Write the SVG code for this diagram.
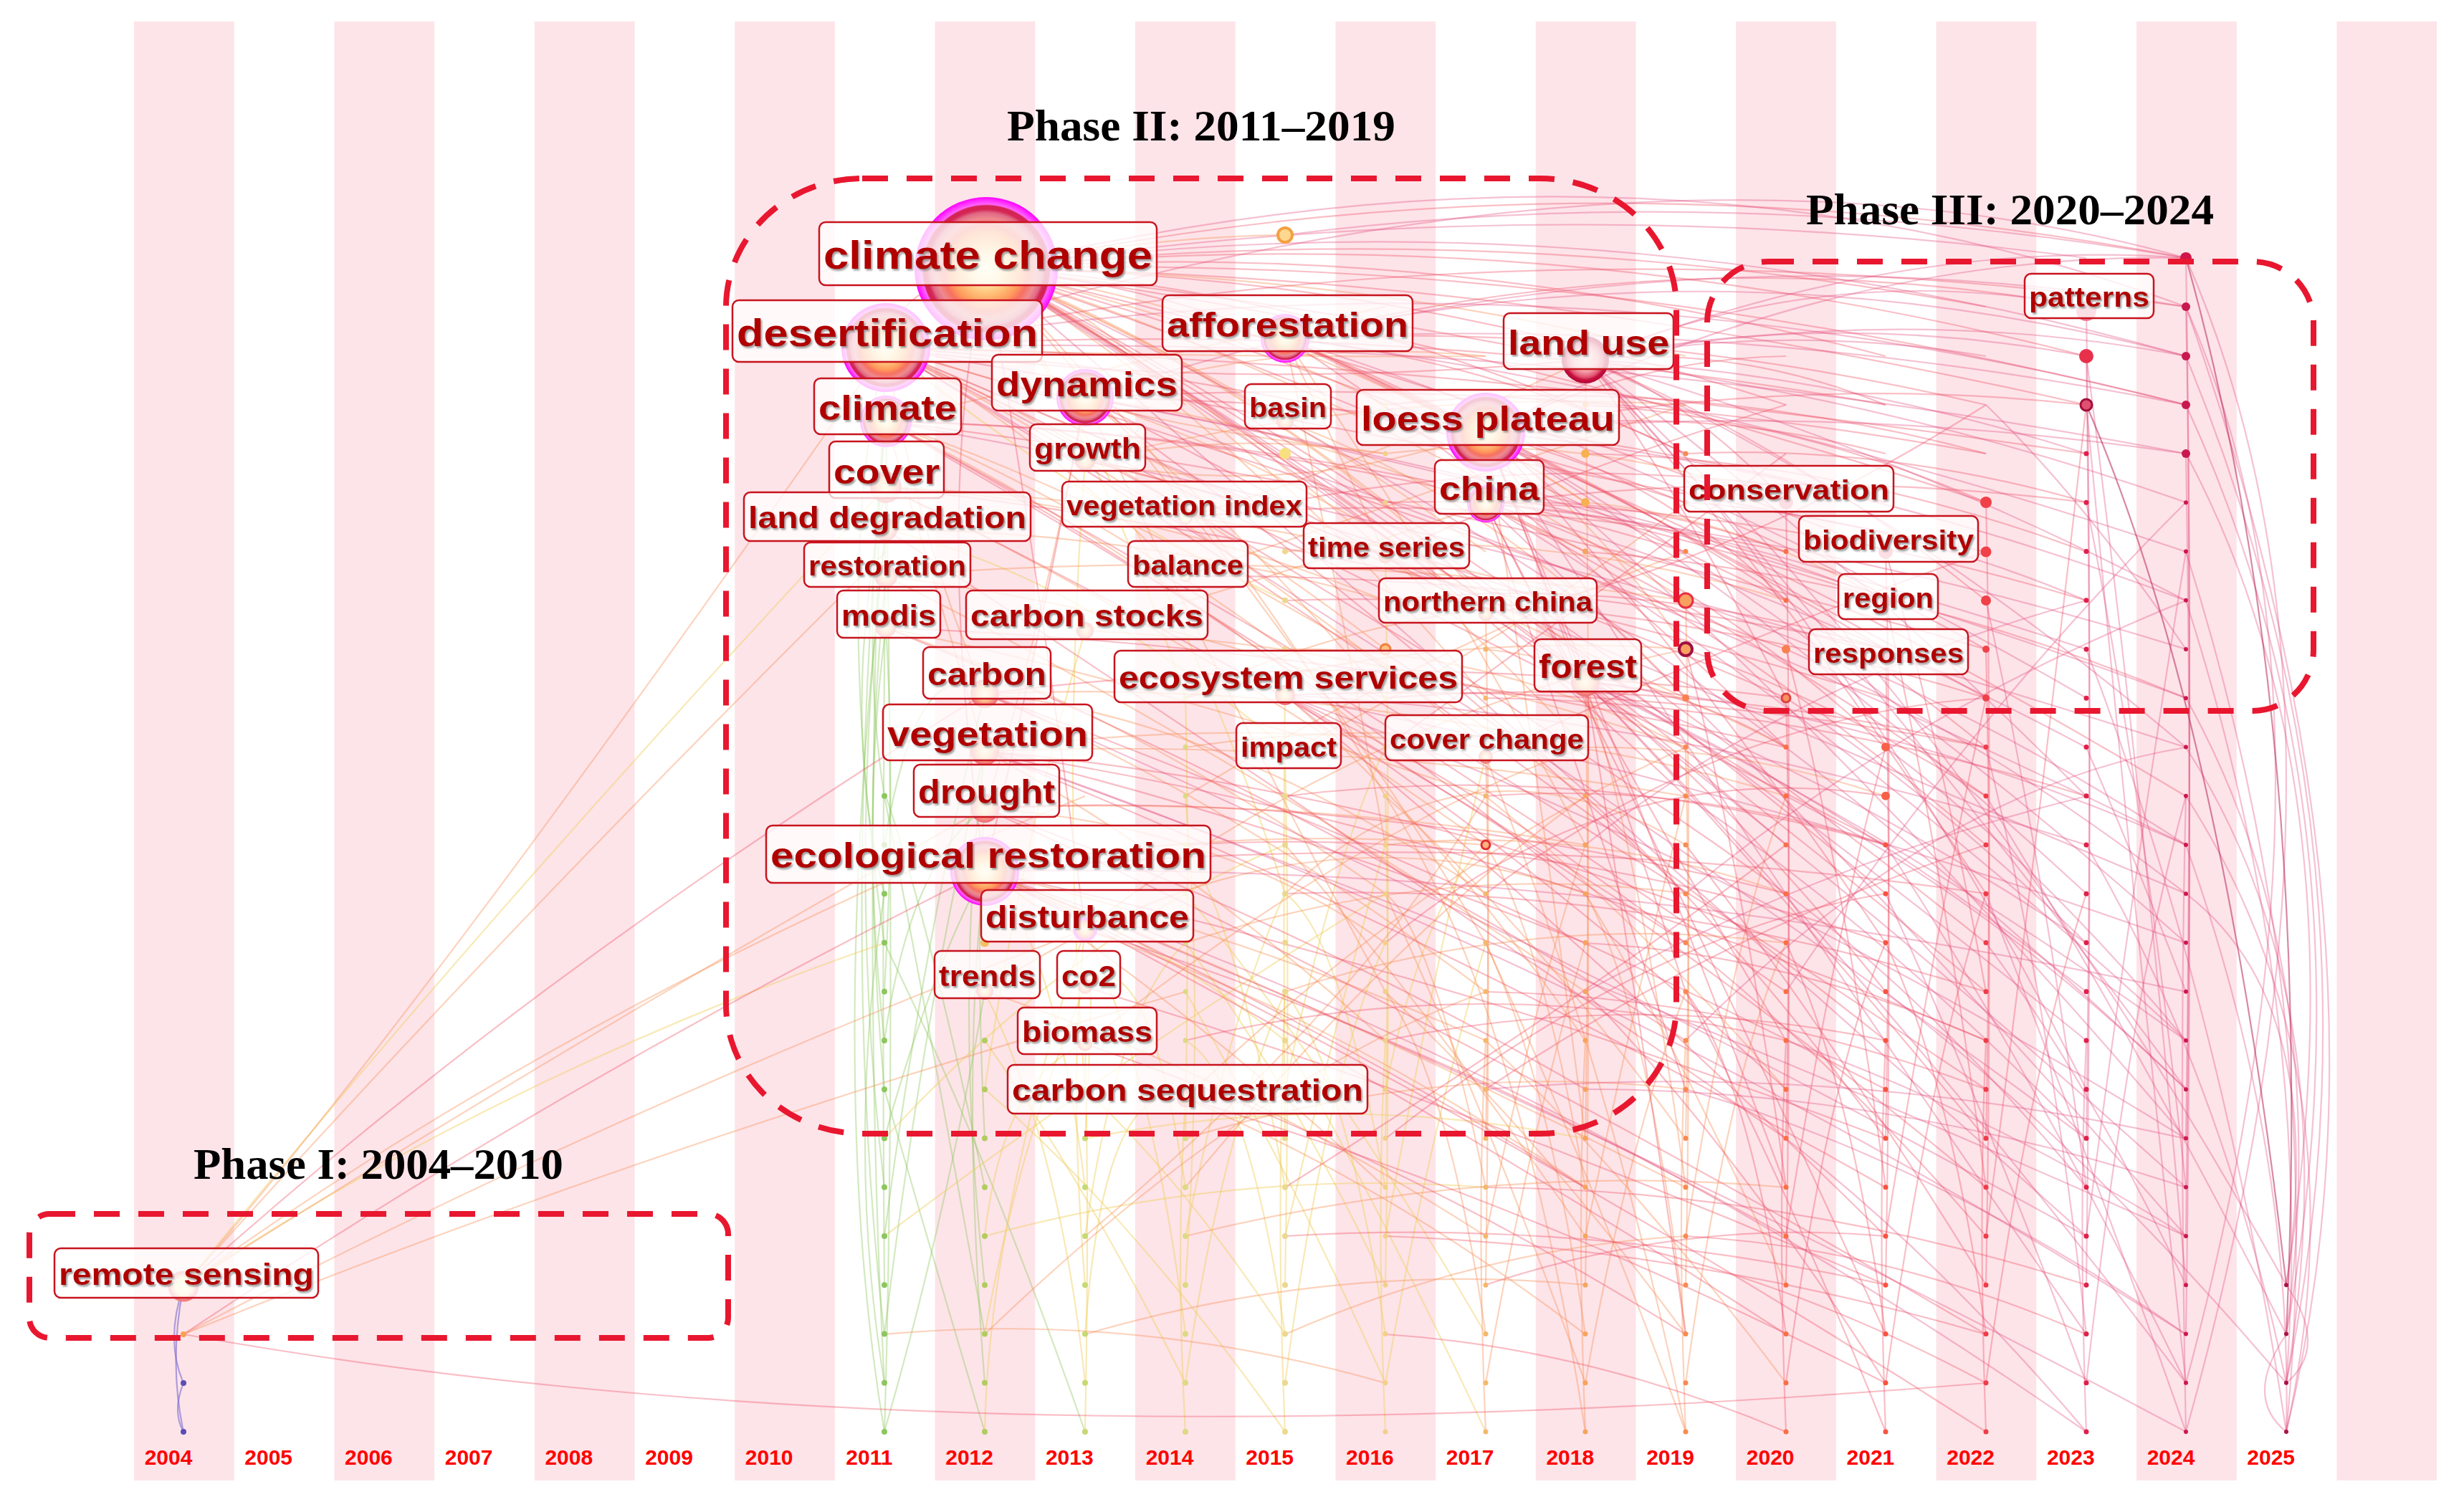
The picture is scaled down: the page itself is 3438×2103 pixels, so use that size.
<svg xmlns="http://www.w3.org/2000/svg" width="3438" height="2103" viewBox="0 0 3438 2103">
<defs>
<style>
.stripe{fill:#fde4e9}
.e path{fill:none;stroke-width:2.2}
.eg{stroke:#8cc65a;stroke-opacity:.38}
.ey{stroke:#efcf5e;stroke-opacity:.45}
.eo{stroke:#f8925a;stroke-opacity:.4}
.er{stroke:#ee4a62;stroke-opacity:.36}
.ep{stroke:#e24a7a;stroke-opacity:.34}
.ed{stroke:#b8285a;stroke-opacity:.55}
.ev{stroke:#7a6ad0;stroke-opacity:.6}
.dots path{fill:none;stroke-dasharray:0 68.25;stroke-linecap:round}
.lb rect{fill:#fff;fill-opacity:.76;stroke:#c8141e;stroke-width:2.5}
.lb text{font-family:"Liberation Sans",Arial,sans-serif;font-weight:bold;fill:#b00000;text-anchor:middle;filter:url(#sh)}
.phase{fill:none;stroke:#e8172f;stroke-width:8;stroke-dasharray:36 26}
.title{font-family:"Liberation Serif","Times New Roman",serif;font-weight:bold;font-size:62px;fill:#000}
.yr{font-family:"Liberation Sans",Arial,sans-serif;font-weight:bold;font-size:30px;fill:#ff0000;text-anchor:middle}
</style>
<filter id="sh" x="-5%" y="-20%" width="110%" height="140%">
<feDropShadow dx="2" dy="2.5" stdDeviation="1" flood-color="#777" flood-opacity=".7"/>
</filter>
<radialGradient id="gM">
<stop offset="0" stop-color="#fff8d8"/>
<stop offset=".2" stop-color="#ffe6a8"/>
<stop offset=".35" stop-color="#ffc27a"/>
<stop offset=".5" stop-color="#ff9a5c"/>
<stop offset=".6" stop-color="#f77060"/>
<stop offset=".7" stop-color="#ee8a90"/>
<stop offset=".78" stop-color="#e06a85"/>
<stop offset=".83" stop-color="#d42454"/>
<stop offset=".88" stop-color="#d42454"/>
<stop offset=".9" stop-color="#ff66ff"/>
<stop offset="1" stop-color="#ff00ff"/>
</radialGradient>
<radialGradient id="gR">
<stop offset="0" stop-color="#fbd8d8"/>
<stop offset=".5" stop-color="#f4a0a8"/>
<stop offset=".75" stop-color="#e05070"/>
<stop offset=".85" stop-color="#c8103c"/>
<stop offset="1" stop-color="#b0083a"/>
</radialGradient>
<radialGradient id="gS">
<stop offset="0" stop-color="#fff3d0"/>
<stop offset=".45" stop-color="#ffc890"/>
<stop offset=".75" stop-color="#f89080"/>
<stop offset="1" stop-color="#ee6a78"/>
</radialGradient>
<radialGradient id="gY">
<stop offset="0" stop-color="#fffbe0"/>
<stop offset=".6" stop-color="#fff0b0"/>
<stop offset=".8" stop-color="#f8b0a0"/>
<stop offset="1" stop-color="#f07080"/>
</radialGradient>
</defs>
<rect width="3438" height="2103" fill="#fff"/>
<g id="stripes">
<rect class="stripe" x="187" y="30" width="139.7" height="2036"/>
<rect class="stripe" x="466.4" y="30" width="139.7" height="2036"/>
<rect class="stripe" x="745.8" y="30" width="139.7" height="2036"/>
<rect class="stripe" x="1025.2" y="30" width="139.7" height="2036"/>
<rect class="stripe" x="1304.6" y="30" width="139.7" height="2036"/>
<rect class="stripe" x="1584" y="30" width="139.7" height="2036"/>
<rect class="stripe" x="1863.4" y="30" width="139.7" height="2036"/>
<rect class="stripe" x="2142.8" y="30" width="139.7" height="2036"/>
<rect class="stripe" x="2422.2" y="30" width="139.7" height="2036"/>
<rect class="stripe" x="2701.6" y="30" width="139.7" height="2036"/>
<rect class="stripe" x="2981" y="30" width="139.7" height="2036"/>
<rect class="stripe" x="3260.4" y="30" width="139.7" height="2036"/>
</g>
<g id="connectors" class="e">
<g class="eg">
<path d="M1234 1998Q1250 1500 1236 588"/><path d="M1234 1930Q1200 1300 1236 485"/><path d="M1234 1862Q1290 1400 1374 1048"/><path d="M1234 1793Q1230 1300 1236 680"/><path d="M1234 1725Q1290 1300 1374 968"/><path d="M1234 1657Q1180 1200 1236 739"/><path d="M1234 1589Q1300 1350 1374 1216"/><path d="M1234 1520Q1200 1150 1236 804"/><path d="M1234 1452Q1270 1200 1374 1128"/><path d="M1234 1384Q1250 1100 1236 876"/><path d="M1234 1316Q1160 800 1236 485"/><path d="M1234 1998Q1320 1700 1374 1384"/><path d="M1234 1930Q1180 1600 1234 1247"/><path d="M1374 1930Q1340 1500 1374 1216"/><path d="M1374 1793Q1330 1400 1374 1048"/><path d="M1374 1657Q1300 1300 1236 1111"/><path d="M1374 1589Q1360 1300 1374 1128"/><path d="M1234 1111Q1200 900 1236 588"/><path d="M1234 1179Q1280 900 1374 968"/><path d="M1234 1247Q1170 1000 1236 680"/><path d="M1234 1998Q1150 1500 1236 739"/><path d="M1234 1862Q1170 1300 1236 588"/>
<path d="M1234 1316Q1374 1600 1514 1998"/><path d="M1234 1111Q1300 1450 1374 1862"/><path d="M1234 1452Q1200 1150 1236 876"/><path d="M1234 1520Q1300 1750 1374 1998"/>
</g>
<g class="ey">
<path d="M1374 1998Q1380 1700 1514 1297"/><path d="M1374 1862Q1420 1600 1514 1377"/><path d="M1374 1725Q1400 1500 1514 1457"/><path d="M1374 1520Q1420 1200 1514 880"/><path d="M1514 1998Q1520 1700 1514 1457"/><path d="M1514 1930Q1480 1600 1374 1384"/><path d="M1514 1862Q1540 1500 1654 1533"/><path d="M1514 1793Q1490 1500 1514 1297"/><path d="M1514 1725Q1560 1400 1654 1316"/><path d="M1514 1657Q1470 1300 1374 1216"/><path d="M1514 1589Q1530 1300 1514 1377"/><path d="M1514 1520Q1480 1100 1514 643"/><path d="M1654 1998Q1640 1750 1654 1533"/><path d="M1654 1930Q1700 1600 1793 1384"/><path d="M1654 1862Q1610 1500 1514 1297"/><path d="M1654 1793Q1680 1400 1654 1111"/><path d="M1654 1725Q1720 1400 1793 1247"/><path d="M1654 1657Q1600 1300 1514 1377"/><path d="M1654 1589Q1660 1200 1654 974"/><path d="M1793 1998Q1780 1700 1793 1384"/><path d="M1793 1930Q1850 1500 1933 1316"/><path d="M1793 1862Q1740 1500 1654 1452"/><path d="M1793 1793Q1800 1400 1793 1052"/><path d="M1793 1725Q1870 1400 1933 1179"/><path d="M1793 1657Q1730 1300 1654 1179"/><path d="M1793 1589Q1790 1200 1793 970"/><path d="M1793 1520Q1860 1200 1933 1043"/><path d="M1933 1998Q1920 1700 1933 1452"/><path d="M1933 1930Q1990 1600 2073 1316"/><path d="M1933 1862Q1880 1500 1793 1384"/><path d="M1933 1793Q1940 1400 1933 1111"/><path d="M1933 1725Q2000 1350 2073 1056"/><path d="M1933 1657Q1870 1300 1793 1247"/><path d="M1933 1589Q1940 1200 1933 776"/><path d="M1933 1520Q1990 1250 2073 1179"/><path d="M1376 375Q1550 650 1654 974"/><path d="M1376 375Q1650 800 1793 1247"/><path d="M1236 485Q1500 700 1793 838"/><path d="M1374 1216Q1600 1300 1793 1452"/><path d="M1234 1725Q1600 1450 1933 1247"/><path d="M1234 1589Q1500 1300 1793 1179"/><path d="M1236 739Q1500 800 1793 1043"/><path d="M256 1795Q700 1500 1234 1316"/>
<path d="M1374 1452Q1514 1650 1654 1930"/><path d="M1374 1520Q1584 1700 1793 1998"/><path d="M1514 1520Q1654 1650 1793 1862"/><path d="M1654 1316Q1793 1500 1933 1793"/><path d="M1654 1247Q1863 1500 2073 1862"/><path d="M1654 1384Q1793 1620 1933 1930"/><path d="M1793 1452Q1933 1700 2073 1998"/><path d="M256 1795Q700 1250 1236 680"/><path d="M1514 1589Q1863 1520 2212 1589"/><path d="M1374 1725Q1724 1630 2073 1657"/>
</g>
<g class="eo">
<path d="M2073 1998Q2060 1700 2073 1452"/><path d="M2073 1930Q2130 1600 2212 1316"/><path d="M2073 1862Q2020 1500 1933 1384"/><path d="M2073 1793Q2080 1300 2073 1056"/><path d="M2073 1725Q2140 1400 2212 1179"/><path d="M2073 1657Q2000 1300 1933 1247"/><path d="M2073 1589Q2080 1200 2073 857"/><path d="M2212 1998Q2200 1700 2212 1452"/><path d="M2212 1930Q2270 1600 2352 1384"/><path d="M2212 1862Q2160 1500 2073 1316"/><path d="M2212 1793Q2220 1400 2212 952"/><path d="M2212 1725Q2280 1400 2352 1111"/><path d="M2212 1657Q2150 1300 2073 1179"/><path d="M2212 1589Q2220 1100 2212 502"/><path d="M2352 1998Q2340 1700 2352 1452"/><path d="M2352 1930Q2410 1500 2492 1316"/><path d="M2352 1862Q2300 1400 2212 1247"/><path d="M2352 1793Q2360 1400 2352 1043"/><path d="M2352 1725Q2420 1300 2492 1111"/><path d="M2352 1657Q2290 1200 2212 952"/><path d="M2352 1589Q2360 1200 2352 838"/><path d="M2352 1998Q2250 1500 2073 1056"/><path d="M2212 1998Q2120 1400 1933 1111"/><path d="M1376 375Q1850 520 2352 838"/><path d="M1376 375Q1600 330 1793 328"/><path d="M1376 375Q1700 450 1933 565"/><path d="M1376 375Q1800 550 2073 838"/><path d="M1376 375Q1850 450 2212 701"/><path d="M1376 375Q1900 380 2352 497"/><path d="M1376 375Q1700 700 1933 1111"/><path d="M1376 375Q1800 850 2073 1316"/><path d="M1236 485Q1750 700 2352 974"/><path d="M1236 485Q1600 600 1933 633"/><path d="M1236 485Q1700 500 2073 497"/><path d="M2073 603Q2250 750 2352 906"/><path d="M1793 472Q2000 560 2212 701"/><path d="M1514 555Q1800 650 2073 838"/><path d="M1514 555Q1700 700 1933 974"/><path d="M1374 1216Q1850 1400 2352 1657"/><path d="M1374 1216Q1700 1150 2073 1179"/><path d="M1374 1048Q1700 1000 2073 1043"/><path d="M1236 588Q1700 750 2212 1111"/><path d="M1236 588Q1600 500 1933 428"/><path d="M1374 968Q1700 1000 2073 1247"/><path d="M1374 1128Q1700 1150 1933 1316"/><path d="M256 1795Q700 1300 1236 770"/><path d="M256 1795Q800 1400 1514 1111"/><path d="M256 1862Q900 1600 1654 1384"/><path d="M256 1795Q600 1400 1236 485"/><path d="M1514 643Q1800 700 2073 603"/><path d="M1514 880Q1800 800 2073 703"/><path d="M1654 722Q1900 650 2212 502"/><path d="M1654 804Q1950 700 2352 565"/><path d="M1793 588Q2100 700 2352 974"/><path d="M1793 1052Q2100 900 2352 701"/><path d="M1654 1111Q2000 900 2352 770"/><path d="M1514 1297Q1900 1000 2352 906"/><path d="M1654 1533Q2000 1200 2352 1043"/><path d="M1514 1457Q1900 1150 2212 1043"/><path d="M1374 1383Q1800 1100 2212 1247"/><path d="M1654 974Q1900 850 2212 838"/><path d="M1793 1247Q2050 1000 2352 1179"/><path d="M1654 1657Q1950 1300 2212 1111"/><path d="M1514 1725Q1900 1400 2073 1111"/><path d="M1374 1862Q1750 1500 2073 1384"/><path d="M1236 804Q1600 850 1933 974"/><path d="M1236 876Q1600 950 2073 1111"/><path d="M1236 680Q1700 700 2212 838"/><path d="M1374 1128Q1450 900 1514 555"/><path d="M1236 588Q1300 800 1374 1048"/><path d="M1236 485Q1280 750 1374 968"/><path d="M1793 472Q1900 700 1933 776"/>
<path d="M1376 375Q1655 480 1933 701"/><path d="M1376 375Q1725 560 2073 974"/><path d="M1376 375Q1794 600 2212 1043"/><path d="M1376 375Q1515 420 1654 565"/><path d="M1376 375Q1585 500 1793 701"/><path d="M1376 375Q1725 520 2073 770"/><path d="M1236 485Q1585 640 1933 906"/><path d="M1236 485Q1655 700 2073 1043"/><path d="M1236 485Q1445 600 1654 806"/><path d="M1236 588Q1585 760 1933 1043"/><path d="M1236 588Q1515 700 1793 906"/><path d="M1236 680Q1655 880 2073 1179"/><path d="M1236 680Q1585 700 1933 838"/><path d="M1514 555Q1863 600 2212 770"/><path d="M1514 555Q1724 1000 1933 1384"/><path d="M1514 555Q1794 470 2073 497"/><path d="M1514 643Q1863 720 2212 906"/><path d="M1514 643Q1724 600 1933 633"/><path d="M1793 472Q2003 780 2212 1179"/><path d="M1793 472Q1863 800 1933 1179"/><path d="M2073 603Q2142 1050 2212 1589"/><path d="M1793 970Q2003 1150 2212 1452"/><path d="M1374 1216Q1724 1300 2073 1452"/><path d="M1374 1216Q1654 1400 1933 1657"/><path d="M1374 1048Q1654 1200 1933 1452"/><path d="M1374 968Q1724 1120 2073 1384"/><path d="M1236 804Q1724 1050 2212 1384"/><path d="M1236 876Q1585 1000 1933 1247"/><path d="M1514 1297Q1863 1420 2212 1657"/><path d="M1654 1533Q1933 1650 2212 1862"/><path d="M1374 1383Q1724 1500 2073 1725"/><path d="M1933 1111Q2143 1300 2352 1589"/><path d="M1933 1384Q2143 1580 2352 1862"/><path d="M2073 1111Q2282 1280 2492 1520"/><path d="M2073 1452Q2282 1650 2492 1930"/><path d="M2212 1247Q2352 1480 2492 1793"/><path d="M2073 1316Q2212 1620 2352 1998"/><path d="M1933 1247Q2073 1550 2212 1930"/><path d="M1793 1179Q2003 1420 2212 1725"/>
<path d="M1654 1043Q2073 980 2492 1111"/><path d="M1654 1316Q2003 1200 2352 1247"/><path d="M1793 770Q2143 730 2492 838"/><path d="M1793 906Q2073 900 2352 1043"/><path d="M1793 1384Q2143 1270 2492 1316"/><path d="M1933 633Q2212 600 2492 701"/><path d="M1933 1179Q2212 1150 2492 1247"/><path d="M2073 906Q2282 930 2492 1043"/><path d="M2212 701Q2421 720 2631 838"/><path d="M2212 1043Q2421 1040 2631 1111"/><path d="M1514 880Q1933 900 2352 1043"/><path d="M1514 643Q1933 540 2352 565"/><path d="M1654 974Q2003 880 2352 906"/><path d="M1374 968Q1794 950 2212 1043"/><path d="M1374 1048Q1863 1030 2352 1111"/><path d="M1374 1128Q1794 1110 2212 1179"/><path d="M1236 739Q1585 740 1933 838"/><path d="M1236 804Q1794 760 2352 838"/><path d="M1654 1589Q2003 1480 2352 1520"/><path d="M1654 1725Q2073 1620 2492 1657"/><path d="M1793 1862Q2073 1740 2352 1725"/><path d="M1514 1862Q1863 1760 2212 1793"/><path d="M1234 1862Q1584 1830 1933 1930"/><path d="M256 1862Q850 1550 1514 1297"/><path d="M256 1795Q800 1450 1374 1128"/>
</g>
<g class="er">
<path d="M2492 1998Q2480 1700 2492 1452"/><path d="M2492 1930Q2550 1500 2631 1316"/><path d="M2492 1862Q2440 1500 2352 1384"/><path d="M2492 1793Q2500 1300 2492 974"/><path d="M2492 1725Q2560 1300 2631 1043"/><path d="M2492 1657Q2430 1200 2352 906"/><path d="M2492 1589Q2500 1200 2492 701"/><path d="M2631 1998Q2620 1700 2631 1452"/><path d="M2631 1930Q2690 1500 2771 1247"/><path d="M2631 1862Q2580 1500 2492 1316"/><path d="M2631 1793Q2640 1300 2631 916"/><path d="M2631 1725Q2700 1300 2771 974"/><path d="M2631 1657Q2570 1200 2492 906"/><path d="M2631 1589Q2640 1100 2631 770"/><path d="M2771 1998Q2760 1700 2771 1452"/><path d="M2771 1930Q2830 1500 2911 1247"/><path d="M2771 1862Q2720 1500 2631 1316"/><path d="M2771 1793Q2780 1300 2771 906"/><path d="M2771 1725Q2840 1200 2911 565"/><path d="M2771 1657Q2710 1200 2631 840"/><path d="M2771 1589Q2780 1100 2771 701"/><path d="M2771 1384Q2700 1000 2631 770"/><path d="M1376 375Q2200 200 3050 360"/><path d="M1376 375Q2150 300 2911 497"/><path d="M1376 375Q2100 380 2911 565"/><path d="M1376 375Q2000 450 2771 701"/><path d="M1376 375Q2200 350 3050 565"/><path d="M1376 375Q1950 500 2631 770"/><path d="M1376 375Q1900 550 2492 838"/><path d="M1376 375Q2200 600 3050 1111"/><path d="M1376 375Q2000 700 2771 1316"/><path d="M1236 485Q2100 300 3050 428"/><path d="M1236 485Q2000 500 2911 633"/><path d="M1236 485Q1900 600 2771 770"/><path d="M1236 485Q1800 650 2492 906"/><path d="M1236 485Q1900 800 2631 1179"/><path d="M2212 502Q2500 620 2771 838"/><path d="M2212 502Q2350 550 2492 701"/><path d="M2073 603Q2500 520 2911 565"/><path d="M2073 603Q2400 700 2771 906"/><path d="M2073 603Q2350 900 2631 1316"/><path d="M2073 603Q2300 650 2492 838"/><path d="M2073 703Q2500 650 2911 701"/><path d="M2073 703Q2400 850 2771 1111"/><path d="M2073 703Q2250 1050 2492 1452"/><path d="M2073 703Q2350 780 2631 1043"/><path d="M1793 472Q2350 330 2911 428"/><path d="M1793 472Q2200 650 2631 906"/><path d="M1793 472Q2250 680 2771 974"/><path d="M1514 555Q2150 520 2771 633"/><path d="M1514 555Q2000 800 2492 1111"/><path d="M1374 1216Q2100 1150 2771 1247"/><path d="M1374 1216Q2000 1350 2631 1589"/><path d="M1374 1048Q2050 1150 2771 1452"/><path d="M1374 1048Q1950 1100 2492 1316"/><path d="M2212 952Q2450 1200 2771 1589"/><path d="M1793 970Q2300 950 2771 1043"/><path d="M1793 970Q2200 1300 2631 1725"/><path d="M1236 588Q1900 600 2631 838"/><path d="M1374 968Q1900 900 2492 974"/><path d="M1374 1128Q1900 1100 2492 1247"/><path d="M256 1795Q750 1350 1374 968"/><path d="M256 1862Q800 1500 1374 1216"/><path d="M256 1862Q1300 2050 2771 1930"/><path d="M1933 776Q2200 650 2492 565"/><path d="M2073 857Q2400 800 2771 565"/><path d="M2073 1056Q2400 900 2771 770"/><path d="M1933 1043Q2200 850 2492 633"/><path d="M1933 1316Q2250 1050 2631 1111"/><path d="M2073 1247Q2400 1000 2771 974"/><path d="M2073 1520Q2400 1300 2771 1179"/><path d="M1933 1589Q2300 1300 2631 1247"/><path d="M1793 1657Q2200 1400 2492 1179"/><path d="M1376 375Q1300 700 1374 1216"/><path d="M1376 375Q1450 800 1514 1297"/><path d="M1376 375Q1250 400 1236 485"/><path d="M1514 555Q1450 900 1374 1216"/><path d="M2073 603Q2150 800 2212 952"/><path d="M1793 472Q1950 550 2073 603"/><path d="M1376 375Q1700 400 2073 603"/><path d="M1236 485Q1700 550 2212 502"/><path d="M1376 375Q1800 420 2212 502"/>
<path d="M1376 375Q1864 650 2352 1111"/><path d="M1376 375Q1934 700 2492 1179"/><path d="M1376 375Q2004 720 2631 1247"/><path d="M1376 375Q2074 800 2771 1384"/><path d="M1376 375Q1864 400 2352 633"/><path d="M1376 375Q1934 380 2492 565"/><path d="M1376 375Q2004 330 2631 497"/><path d="M1376 375Q2074 300 2771 428"/><path d="M1236 485Q1864 800 2492 1247"/><path d="M1236 485Q1934 900 2631 1452"/><path d="M1236 485Q1794 520 2352 701"/><path d="M1236 485Q1934 440 2631 565"/><path d="M1236 588Q1724 850 2212 1247"/><path d="M1236 588Q1864 950 2492 1384"/><path d="M1236 588Q2003 1000 2771 1520"/><path d="M1236 588Q1794 600 2352 770"/><path d="M1236 588Q2003 680 2771 906"/><path d="M1236 680Q1794 950 2352 1316"/><path d="M1236 680Q1934 760 2631 974"/><path d="M1514 555Q1933 850 2352 1247"/><path d="M1514 555Q2073 560 2631 701"/><path d="M1514 643Q2003 760 2492 974"/><path d="M1793 472Q2073 500 2352 633"/><path d="M1793 472Q2143 700 2492 1043"/><path d="M1793 472Q2282 450 2771 565"/><path d="M2073 603Q2282 500 2492 497"/><path d="M2073 603Q2352 560 2631 633"/><path d="M2073 603Q2422 760 2771 1043"/><path d="M2073 603Q2212 950 2352 1384"/><path d="M2073 603Q2282 1100 2492 1657"/><path d="M2073 703Q2282 690 2492 770"/><path d="M2073 703Q2352 720 2631 838"/><path d="M2073 703Q2422 880 2771 1179"/><path d="M2073 703Q2212 1100 2352 1520"/><path d="M2073 703Q2352 1250 2631 1862"/><path d="M2212 502Q2421 480 2631 565"/><path d="M2212 502Q2352 700 2492 974"/><path d="M2212 502Q2491 820 2771 1247"/><path d="M2212 952Q2352 960 2492 1043"/><path d="M2212 952Q2421 1120 2631 1384"/><path d="M2212 952Q2282 1380 2352 1862"/><path d="M1793 970Q2073 1100 2352 1316"/><path d="M1793 970Q2143 1200 2492 1520"/><path d="M1793 970Q2282 1250 2771 1657"/><path d="M1374 1216Q1794 1400 2212 1657"/><path d="M1374 1216Q1933 1500 2492 1862"/><path d="M1374 1216Q2073 1550 2771 1998"/><path d="M1374 1048Q1794 1150 2212 1316"/><path d="M1374 1048Q2003 1300 2631 1657"/><path d="M1374 968Q2003 1200 2631 1520"/><path d="M1374 1128Q1794 1280 2212 1520"/><path d="M1374 1128Q2073 1450 2771 1862"/><path d="M1236 739Q1864 1150 2492 1589"/><path d="M1236 876Q1794 1100 2352 1452"/><path d="M1514 1297Q2003 1450 2492 1725"/><path d="M1514 1457Q1933 1600 2352 1862"/><path d="M1654 1533Q2143 1680 2631 1930"/><path d="M1514 1377Q2073 1550 2631 1793"/><path d="M2212 1111Q2421 1300 2631 1589"/><path d="M2212 1384Q2421 1600 2631 1930"/><path d="M2352 1179Q2560 1450 2771 1793"/><path d="M2352 1384Q2492 1650 2631 1998"/><path d="M2352 906Q2560 980 2771 1111"/><path d="M2352 1316Q2560 1480 2771 1725"/>
<path d="M1654 1179Q2143 1150 2631 1316"/><path d="M1654 1452Q2073 1350 2492 1452"/><path d="M1793 701Q2212 620 2631 701"/><path d="M1793 838Q2282 820 2771 974"/><path d="M1793 1111Q2212 1060 2631 1179"/><path d="M1793 1247Q2282 1230 2771 1384"/><path d="M1933 565Q2352 520 2771 633"/><path d="M1933 701Q2421 690 2911 838"/><path d="M1933 838Q2282 800 2631 906"/><path d="M1933 974Q2352 940 2771 1043"/><path d="M1933 1452Q2282 1380 2631 1452"/><path d="M2073 974Q2492 980 2911 1111"/><path d="M2073 1111Q2352 1090 2631 1179"/><path d="M2073 1384Q2421 1390 2771 1520"/><path d="M2212 565Q2491 580 2771 701"/><path d="M2212 633Q2561 640 2911 770"/><path d="M2212 770Q2631 800 3050 974"/><path d="M2212 1316Q2491 1330 2771 1452"/><path d="M2352 633Q2631 620 2911 701"/><path d="M1654 722Q2073 680 2492 770"/><path d="M1654 804Q2143 800 2631 906"/><path d="M1236 876Q1864 900 2492 1043"/><path d="M1793 1725Q2212 1700 2631 1793"/><path d="M1933 1725Q2352 1740 2771 1862"/><path d="M1933 1862Q2212 1880 2492 1998"/><path d="M2073 1657Q2492 1660 2911 1793"/><path d="M2073 1793Q2352 1700 2631 1725"/><path d="M2212 1725Q2491 1780 2771 1930"/><path d="M2352 1725Q2631 1740 2911 1862"/>
</g>
<g class="ep">
<path d="M2911 1998Q2900 1700 2911 1452"/><path d="M2911 1930Q2970 1400 3050 1111"/><path d="M2911 1862Q2860 1400 2771 1043"/><path d="M2911 1793Q2920 1100 2911 497"/><path d="M2911 1725Q2980 1200 3050 770"/><path d="M2911 1657Q2850 1200 2771 838"/><path d="M2911 1589Q2920 1000 2911 434"/><path d="M3050 1998Q3040 1500 3050 1111"/><path d="M3050 1930Q2980 1300 2911 565"/><path d="M3050 1862Q3060 1200 3050 633"/><path d="M3050 1793Q2990 1100 2911 497"/><path d="M3050 1725Q3060 1000 3050 360"/><path d="M3050 1657Q2990 1100 2911 701"/><path d="M3050 1589Q3060 900 3050 428"/><path d="M3190 1998Q3360 1300 3050 428"/><path d="M3190 1930Q3340 1200 3050 497"/><path d="M3190 1862Q3320 1150 3050 565"/><path d="M3190 1793Q3300 1100 3050 633"/><path d="M3190 1998Q3300 1500 3050 1111"/><path d="M3190 1930Q3280 1400 3050 1043"/><path d="M3190 1862Q3260 1350 3050 974"/><path d="M3190 1793Q3250 1400 3050 1247"/><path d="M3050 1998Q3330 1000 3050 360"/><path d="M3050 1930Q3300 1000 3050 428"/><path d="M3190 1998Q3130 1950 3190 1862"/><path d="M3190 1930Q3250 1880 3190 1793"/><path d="M1376 375Q2100 1000 2911 1725"/><path d="M1376 375Q2300 800 3050 1520"/><path d="M1236 485Q2100 850 3050 1247"/><path d="M2212 502Q2650 330 3050 360"/><path d="M2212 502Q2650 420 3050 497"/><path d="M2212 502Q2550 430 2911 497"/><path d="M2212 502Q2550 360 2911 428"/><path d="M2212 502Q2650 560 3050 701"/><path d="M2212 502Q2650 700 3050 1043"/><path d="M2212 502Q2600 900 2911 1520"/><path d="M2212 502Q2750 1000 3190 1793"/><path d="M2073 603Q2550 560 3050 633"/><path d="M2073 603Q2550 650 3050 838"/><path d="M2073 603Q2550 1000 3050 1589"/><path d="M2073 603Q2450 1200 2911 1862"/><path d="M2073 703Q2550 750 3050 906"/><path d="M2073 703Q2550 1150 3050 1725"/><path d="M1793 472Q2400 550 3050 770"/><path d="M1514 555Q2300 700 3050 974"/><path d="M1374 1216Q2200 1200 3050 1384"/><path d="M1374 1216Q2200 1500 2911 1998"/><path d="M1374 1048Q2250 1350 3050 1862"/><path d="M2212 952Q2650 1000 3050 1179"/><path d="M2212 952Q2550 1100 2911 1384"/><path d="M2212 952Q2650 1400 3050 1930"/><path d="M1793 970Q2350 1000 2911 1179"/><path d="M1793 970Q2450 1100 3050 1316"/><path d="M2212 1179Q2500 950 2911 838"/><path d="M2352 1247Q2650 1000 3050 838"/><path d="M2352 1452Q2700 1100 3050 1043"/><path d="M2492 1384Q2750 1000 3050 701"/><path d="M2212 1384Q2550 1200 2911 1111"/><path d="M1376 375Q2300 150 3050 428"/><path d="M1236 485Q2300 150 3050 360"/><path d="M1793 328Q2400 250 3050 360"/>
<path d="M1376 375Q2144 260 2911 360"/><path d="M1376 375Q2213 260 3050 497"/><path d="M1236 485Q2143 330 3050 565"/><path d="M1514 555Q2282 300 3050 428"/><path d="M1793 472Q2421 330 3050 497"/><path d="M2073 603Q2560 350 3050 360"/><path d="M1376 375Q2144 830 2911 1452"/><path d="M1376 375Q2213 900 3050 1657"/><path d="M1236 485Q2073 970 2911 1589"/><path d="M1236 485Q2143 460 3050 633"/><path d="M1236 588Q2143 750 3050 1043"/><path d="M1514 555Q2212 680 2911 906"/><path d="M1514 555Q2282 800 3050 1179"/><path d="M1793 472Q2421 440 3050 565"/><path d="M1793 472Q2352 650 2911 974"/><path d="M2073 603Q2492 860 2911 1247"/><path d="M2073 603Q2560 880 3050 1316"/><path d="M2073 703Q2492 820 2911 1043"/><path d="M2073 703Q2560 1000 3050 1452"/><path d="M2212 502Q2491 450 2771 497"/><path d="M2212 502Q2561 520 2911 633"/><path d="M2212 502Q2631 620 3050 838"/><path d="M2212 502Q2631 950 3050 1520"/><path d="M2212 502Q2561 760 2911 1111"/><path d="M2212 952Q2561 1080 2911 1316"/><path d="M2212 952Q2631 1150 3050 1452"/><path d="M1793 970Q2421 1200 3050 1589"/><path d="M1374 1216Q2212 1550 3050 1998"/><path d="M1374 1048Q2212 1350 3050 1725"/><path d="M1374 968Q2143 1300 2911 1725"/><path d="M2492 1111Q2771 1250 3050 1520"/><path d="M2492 1247Q2700 1400 2911 1657"/><path d="M2631 1179Q2840 1500 3050 1930"/><path d="M2631 1384Q2910 1600 3190 1930"/><path d="M2771 1111Q2980 1450 3190 1862"/><path d="M2771 1316Q2910 1500 3050 1793"/><path d="M2911 906Q3100 1400 3190 1998"/><path d="M2911 1043Q2980 1200 3050 1384"/><path d="M2911 1179Q3100 1500 3190 1930"/><path d="M2771 565Q2910 700 3050 906"/><path d="M2352 701Q2631 720 2911 838"/><path d="M2352 838Q2700 950 3050 1179"/><path d="M2492 906Q2771 1030 3050 1247"/><path d="M2492 974Q2700 1110 2911 1316"/><path d="M2631 1043Q2840 1200 3050 1452"/><path d="M2352 1111Q2631 1300 2911 1589"/><path d="M2492 1452Q2771 1550 3050 1725"/><path d="M2631 1247Q2771 1550 2911 1930"/><path d="M2771 1247Q2910 1600 3050 1998"/><path d="M2492 1589Q2700 1750 2911 1998"/><path d="M3050 770Q3250 1400 3190 1998"/><path d="M3050 838Q3230 1400 3190 1930"/><path d="M3050 1179Q3200 1600 3190 1998"/>
<path d="M2212 1520Q2631 1520 3050 1657"/><path d="M2352 1520Q2700 1620 3050 1862"/><path d="M2073 1520Q2560 1480 3050 1589"/>
</g>
<g class="ed">
<path d="M3050 360Q3230 1000 3190 1862"/><path d="M2911 565Q3100 1000 3190 1793"/>
</g>
<g class="ev">
<path d="M256 1795Q230 1870 256 1930"/><path d="M256 1930Q240 1970 256 1998"/><path d="M256 1795Q235 1900 256 1998"/>
</g>
</g>
<g id="minor-nodes" class="dots">
<path d="M1234 1110.75V2000" stroke="#8dc65e" stroke-width="8"/>
<path d="M1374 1452V2000" stroke="#b2cc60" stroke-width="8"/>
<path d="M1514 1520.25V2000" stroke="#c8d873" stroke-width="8"/>
<path d="M1654 974.25V1453" stroke="#ddd985" stroke-width="7"/>
<path d="M1654 1588.5V2000" stroke="#ddd985" stroke-width="8"/>
<path d="M1793 701.25V907" stroke="#ecd890" stroke-width="8"/>
<path d="M1793 1110.75V2000" stroke="#ecd890" stroke-width="8"/>
<path d="M1933 564.75V702" stroke="#f2d08a" stroke-width="7"/>
<path d="M1933 837.75V2000" stroke="#f2d08a" stroke-width="7"/>
<path d="M2073 906V975" stroke="#f4b86c" stroke-width="7"/>
<path d="M2073 1110.75V2000" stroke="#f4b86c" stroke-width="7"/>
<path d="M2212 564.75V771" stroke="#f6a460" stroke-width="8"/>
<path d="M2212 1042.5V2000" stroke="#f6a460" stroke-width="7"/>
<path d="M2352 633V771" stroke="#f88a50" stroke-width="7"/>
<path d="M2352 1042.5V2000" stroke="#f88a50" stroke-width="7"/>
<path d="M2492 769.5V839" stroke="#fb6e44" stroke-width="7"/>
<path d="M2492 1042.5V2000" stroke="#fb6e44" stroke-width="7"/>
<path d="M2631 1179V2000" stroke="#f65440" stroke-width="7"/>
<path d="M2771 1042.5V2000" stroke="#ef3c48" stroke-width="7"/>
<path d="M2911 633V2000" stroke="#e0204a" stroke-width="7"/>
<path d="M3050 701.25V2000" stroke="#cc184e" stroke-width="6"/>
<path d="M3190 1793.25V2000" stroke="#a8124a" stroke-width="6"/>
<circle cx="1374" cy="1315.5" r="6" fill="#f2c060"/>
<circle cx="1793" cy="328" r="10" fill="#ffd890" stroke="#f4a040" stroke-width="4"/>
<circle cx="1793" cy="633" r="8" fill="#f8e080"/>
<circle cx="1933" cy="906" r="7" fill="#ffc080" stroke="#f08040" stroke-width="3"/>
<circle cx="2073" cy="1179" r="6" fill="#ffb080" stroke="#e03030" stroke-width="3"/>
<circle cx="2212" cy="633" r="6" fill="#f8b050"/>
<circle cx="2212" cy="701" r="6" fill="#f8b050"/>
<circle cx="2352" cy="838" r="10" fill="#f8a060" stroke="#e83040" stroke-width="3"/>
<circle cx="2352" cy="906" r="9" fill="#f8a060" stroke="#a01040" stroke-width="4"/>
<circle cx="2352" cy="974" r="5" fill="#f88050"/>
<circle cx="2492" cy="906" r="6" fill="#f88050"/>
<circle cx="2492" cy="974" r="6" fill="#f89060" stroke="#e04040" stroke-width="3"/>
<circle cx="2631" cy="1042.5" r="6" fill="#f86048"/>
<circle cx="2631" cy="1110.75" r="6" fill="#f86048"/>
<circle cx="2771" cy="701" r="8" fill="#f04048"/>
<circle cx="2771" cy="770" r="7.5" fill="#f04048"/>
<circle cx="2771" cy="838" r="7" fill="#f04048"/>
<circle cx="2771" cy="906" r="5" fill="#f04048"/>
<circle cx="2771" cy="974" r="5" fill="#f04048"/>
<circle cx="2911" cy="497" r="10" fill="#e8304a"/>
<circle cx="2911" cy="565" r="8" fill="#e05070" stroke="#a0103a" stroke-width="3"/>
<circle cx="3050" cy="360" r="8" fill="#d0164a"/>
<circle cx="3050" cy="428" r="6" fill="#c8184e"/>
<circle cx="3050" cy="497" r="6" fill="#c8184e"/>
<circle cx="3050" cy="565" r="6" fill="#c8184e"/>
<circle cx="3050" cy="633" r="6" fill="#c8184e"/>
<circle cx="256" cy="1862" r="4" fill="#f7a050"/>
<circle cx="256" cy="1930" r="4" fill="#5b4db5"/>
<circle cx="256" cy="1998" r="4" fill="#5b4db5"/>
</g>
<g id="nodes">
<g id="node-climate-change"><circle cx="1376" cy="375" r="100" fill="url(#gM)"/></g>
<g id="node-desertification"><circle cx="1236" cy="485" r="62" fill="url(#gM)"/></g>
<g id="node-loess-plateau"><circle cx="2073" cy="603" r="55" fill="url(#gM)"/></g>
<g id="node-ecological-restoration"><circle cx="1374" cy="1216" r="48" fill="url(#gM)"/></g>
<g id="node-dynamics"><circle cx="1514" cy="555" r="40" fill="url(#gM)"/></g>
<g id="node-climate"><circle cx="1236" cy="588" r="36" fill="url(#gM)"/></g>
<g id="node-afforestation"><circle cx="1793" cy="472" r="34" fill="url(#gM)"/></g>
<g id="node-land-use"><circle cx="2212" cy="502" r="33" fill="url(#gR)"/></g>
<g id="node-china"><circle cx="2073" cy="703" r="26" fill="url(#gM)"/></g>
<g id="node-cover"><circle cx="1236" cy="680" r="22" fill="url(#gS)"/></g>
<g id="node-land-degradation"><circle cx="1236" cy="739" r="16" fill="url(#gS)"/></g>
<g id="node-restoration"><circle cx="1236" cy="804" r="16" fill="url(#gS)"/></g>
<g id="node-modis"><circle cx="1236" cy="876" r="14" fill="url(#gS)"/></g>
<g id="node-growth"><circle cx="1514" cy="643" r="14" fill="url(#gS)"/></g>
<g id="node-carbon-stocks"><circle cx="1514" cy="880" r="12" fill="url(#gS)"/></g>
<g id="node-disturbance"><circle cx="1514" cy="1297" r="15" fill="url(#gS)" stroke="#ff40ff" stroke-width="4"/></g>
<g id="node-co2"><circle cx="1514" cy="1377" r="10" fill="url(#gS)"/></g>
<g id="node-biomass"><circle cx="1514" cy="1457" r="10" fill="url(#gS)"/></g>
<g id="node-vegetation-index"><circle cx="1654" cy="722" r="10" fill="url(#gY)"/></g>
<g id="node-balance"><circle cx="1654" cy="804" r="8" fill="url(#gY)"/></g>
<g id="node-carbon-sequestration"><circle cx="1654" cy="1533" r="12" fill="url(#gS)"/></g>
<g id="node-basin"><circle cx="1793" cy="588" r="12" fill="url(#gS)"/></g>
<g id="node-ecosystem-services"><circle cx="1793" cy="970" r="14" fill="url(#gS)"/></g>
<g id="node-impact"><circle cx="1793" cy="1052" r="8" fill="url(#gY)"/></g>
<g id="node-time-series"><circle cx="1933" cy="776" r="10" fill="url(#gS)"/></g>
<g id="node-northern-china"><circle cx="2073" cy="857" r="10" fill="url(#gS)"/></g>
<g id="node-cover-change"><circle cx="2073" cy="1056" r="10" fill="url(#gS)"/></g>
<g id="node-forest"><circle cx="2212" cy="952" r="20" fill="url(#gS)"/></g>
<g id="node-carbon"><circle cx="1374" cy="968" r="20" fill="url(#gS)"/></g>
<g id="node-vegetation"><circle cx="1374" cy="1048" r="20" fill="url(#gS)"/></g>
<g id="node-drought"><circle cx="1374" cy="1128" r="20" fill="url(#gS)"/></g>
<g id="node-trends"><circle cx="1374" cy="1383" r="12" fill="url(#gS)"/></g>
<g id="node-remote-sensing"><circle cx="256" cy="1795" r="20" fill="url(#gY)" stroke="#f08080" stroke-width="3"/></g>
<g id="node-patterns"><circle cx="2911" cy="434" r="14" fill="#f07890"/></g>
<g id="node-conservation"><circle cx="2492" cy="701" r="10" fill="#f07890"/></g>
<g id="node-biodiversity"><circle cx="2631" cy="770" r="10" fill="#f07890"/></g>
<g id="node-region"><circle cx="2631" cy="840" r="8" fill="#f07890"/></g>
<g id="node-responses"><circle cx="2631" cy="916" r="10" fill="#f07890"/></g>
</g>
<g id="labels">
<g id="label-climate-change" class="lb"><rect x="1143" y="310" width="471" height="88" rx="9"/><text x="1378.5" y="375" font-size="54.6" textLength="459" lengthAdjust="spacingAndGlyphs">climate change</text></g>
<g id="label-desertification" class="lb"><rect x="1022" y="419" width="432" height="86" rx="9"/><text x="1238" y="482.6" font-size="53.3" textLength="420" lengthAdjust="spacingAndGlyphs">desertification</text></g>
<g id="label-afforestation" class="lb"><rect x="1622" y="412" width="349" height="78" rx="9"/><text x="1796.5" y="469.7" font-size="48.4" textLength="337" lengthAdjust="spacingAndGlyphs">afforestation</text></g>
<g id="label-land-use" class="lb"><rect x="2098" y="437" width="237" height="78" rx="9"/><text x="2216.5" y="494.7" font-size="48.4" textLength="225" lengthAdjust="spacingAndGlyphs">land use</text></g>
<g id="label-climate" class="lb"><rect x="1136" y="528" width="205" height="78" rx="9"/><text x="1238.5" y="585.7" font-size="48.4" textLength="193" lengthAdjust="spacingAndGlyphs">climate</text></g>
<g id="label-dynamics" class="lb"><rect x="1384" y="495" width="265" height="78" rx="9"/><text x="1516.5" y="552.7" font-size="48.4" textLength="253" lengthAdjust="spacingAndGlyphs">dynamics</text></g>
<g id="label-basin" class="lb"><rect x="1737" y="536" width="120" height="62" rx="9"/><text x="1797" y="581.9" font-size="38.4" textLength="108" lengthAdjust="spacingAndGlyphs">basin</text></g>
<g id="label-loess-plateau" class="lb"><rect x="1893" y="544" width="366" height="77" rx="9"/><text x="2076" y="601" font-size="47.7" textLength="354" lengthAdjust="spacingAndGlyphs">loess plateau</text></g>
<g id="label-growth" class="lb"><rect x="1437" y="592" width="161" height="65" rx="9"/><text x="1517.5" y="640.1" font-size="40.3" textLength="149" lengthAdjust="spacingAndGlyphs">growth</text></g>
<g id="label-cover" class="lb"><rect x="1157" y="616" width="160" height="79" rx="9"/><text x="1237" y="674.5" font-size="49" textLength="148" lengthAdjust="spacingAndGlyphs">cover</text></g>
<g id="label-china" class="lb"><rect x="2002" y="642" width="152" height="75" rx="9"/><text x="2078" y="697.5" font-size="46.5" textLength="140" lengthAdjust="spacingAndGlyphs">china</text></g>
<g id="label-vegetation-index" class="lb"><rect x="1482" y="672" width="341" height="63" rx="9"/><text x="1652.5" y="718.6" font-size="39" textLength="329" lengthAdjust="spacingAndGlyphs">vegetation index</text></g>
<g id="label-land-degradation" class="lb"><rect x="1038" y="687" width="400" height="68" rx="9"/><text x="1238" y="737.3" font-size="42.2" textLength="388" lengthAdjust="spacingAndGlyphs">land degradation</text></g>
<g id="label-time-series" class="lb"><rect x="1819" y="730" width="231" height="63" rx="9"/><text x="1934.5" y="776.6" font-size="39" textLength="219" lengthAdjust="spacingAndGlyphs">time series</text></g>
<g id="label-restoration" class="lb"><rect x="1122" y="757" width="232" height="62" rx="9"/><text x="1238" y="802.9" font-size="38.4" textLength="220" lengthAdjust="spacingAndGlyphs">restoration</text></g>
<g id="label-balance" class="lb"><rect x="1574" y="755" width="167" height="64" rx="9"/><text x="1657.5" y="802.4" font-size="39.7" textLength="155" lengthAdjust="spacingAndGlyphs">balance</text></g>
<g id="label-modis" class="lb"><rect x="1168" y="824" width="144" height="66" rx="9"/><text x="1240" y="872.8" font-size="40.9" textLength="132" lengthAdjust="spacingAndGlyphs">modis</text></g>
<g id="label-carbon-stocks" class="lb"><rect x="1348" y="824" width="337" height="68" rx="9"/><text x="1516.5" y="874.3" font-size="42.2" textLength="325" lengthAdjust="spacingAndGlyphs">carbon stocks</text></g>
<g id="label-northern-china" class="lb"><rect x="1924" y="807" width="304" height="62" rx="9"/><text x="2076" y="852.9" font-size="38.4" textLength="292" lengthAdjust="spacingAndGlyphs">northern china</text></g>
<g id="label-carbon" class="lb"><rect x="1288" y="903" width="178" height="72" rx="9"/><text x="1377" y="956.3" font-size="44.6" textLength="166" lengthAdjust="spacingAndGlyphs">carbon</text></g>
<g id="label-ecosystem-services" class="lb"><rect x="1555" y="908" width="485" height="72" rx="9"/><text x="1797.5" y="961.3" font-size="44.6" textLength="473" lengthAdjust="spacingAndGlyphs">ecosystem services</text></g>
<g id="label-forest" class="lb"><rect x="2141" y="892" width="149" height="73" rx="9"/><text x="2215.5" y="946" font-size="45.3" textLength="137" lengthAdjust="spacingAndGlyphs">forest</text></g>
<g id="label-vegetation" class="lb"><rect x="1232" y="983" width="292" height="78" rx="9"/><text x="1378" y="1040.7" font-size="48.4" textLength="280" lengthAdjust="spacingAndGlyphs">vegetation</text></g>
<g id="label-impact" class="lb"><rect x="1725" y="1009" width="146" height="63" rx="9"/><text x="1798" y="1055.6" font-size="39" textLength="134" lengthAdjust="spacingAndGlyphs">impact</text></g>
<g id="label-cover-change" class="lb"><rect x="1933" y="998" width="283" height="63" rx="9"/><text x="2074.5" y="1044.6" font-size="39" textLength="271" lengthAdjust="spacingAndGlyphs">cover change</text></g>
<g id="label-drought" class="lb"><rect x="1275" y="1067" width="203" height="73" rx="9"/><text x="1376.5" y="1121" font-size="45.3" textLength="191" lengthAdjust="spacingAndGlyphs">drought</text></g>
<g id="label-ecological-restoration" class="lb"><rect x="1069" y="1152" width="620" height="80" rx="9"/><text x="1379" y="1211.2" font-size="49.6" textLength="608" lengthAdjust="spacingAndGlyphs">ecological restoration</text></g>
<g id="label-disturbance" class="lb"><rect x="1369" y="1242" width="296" height="72" rx="9"/><text x="1517" y="1295.3" font-size="44.6" textLength="284" lengthAdjust="spacingAndGlyphs">disturbance</text></g>
<g id="label-trends" class="lb"><rect x="1304" y="1327" width="147" height="66" rx="9"/><text x="1377.5" y="1375.8" font-size="40.9" textLength="135" lengthAdjust="spacingAndGlyphs">trends</text></g>
<g id="label-co2" class="lb"><rect x="1475" y="1327" width="88" height="66" rx="9"/><text x="1519" y="1375.8" font-size="40.9" textLength="76" lengthAdjust="spacingAndGlyphs">co2</text></g>
<g id="label-biomass" class="lb"><rect x="1420" y="1406" width="194" height="65" rx="9"/><text x="1517" y="1454.1" font-size="40.3" textLength="182" lengthAdjust="spacingAndGlyphs">biomass</text></g>
<g id="label-carbon-sequestration" class="lb"><rect x="1406" y="1486" width="502" height="68" rx="9"/><text x="1657" y="1536.3" font-size="42.2" textLength="490" lengthAdjust="spacingAndGlyphs">carbon sequestration</text></g>
<g id="label-remote-sensing" class="lb"><rect x="76" y="1742" width="368" height="69" rx="9"/><text x="260" y="1793" font-size="42.8" textLength="356" lengthAdjust="spacingAndGlyphs">remote sensing</text></g>
<g id="label-patterns" class="lb"><rect x="2825" y="382" width="180" height="62" rx="9"/><text x="2915" y="427.9" font-size="38.4" textLength="168" lengthAdjust="spacingAndGlyphs">patterns</text></g>
<g id="label-conservation" class="lb"><rect x="2350" y="650" width="292" height="64" rx="9"/><text x="2496" y="697.4" font-size="39.7" textLength="280" lengthAdjust="spacingAndGlyphs">conservation</text></g>
<g id="label-biodiversity" class="lb"><rect x="2510" y="720" width="250" height="64" rx="9"/><text x="2635" y="767.4" font-size="39.7" textLength="238" lengthAdjust="spacingAndGlyphs">biodiversity</text></g>
<g id="label-region" class="lb"><rect x="2565" y="801" width="139" height="63" rx="9"/><text x="2634.5" y="847.6" font-size="39" textLength="127" lengthAdjust="spacingAndGlyphs">region</text></g>
<g id="label-responses" class="lb"><rect x="2524" y="878" width="222" height="63" rx="9"/><text x="2635" y="924.6" font-size="39" textLength="210" lengthAdjust="spacingAndGlyphs">responses</text></g>
</g>
<g id="phases">
<rect class="phase" x="41" y="1694" width="975" height="173" rx="28" ry="28"/>
<rect class="phase" x="1013" y="249" width="1326" height="1333" rx="190" ry="180"/>
<rect class="phase" x="2382" y="365" width="846" height="627" rx="85" ry="85"/>
<text class="title" x="270" y="1645" textLength="516" lengthAdjust="spacingAndGlyphs">Phase I: 2004–2010</text>
<text class="title" x="1405" y="196" textLength="542" lengthAdjust="spacingAndGlyphs">Phase II: 2011–2019</text>
<text class="title" x="2520" y="313" textLength="569" lengthAdjust="spacingAndGlyphs">Phase III: 2020–2024</text>
</g>
<g id="years">
<text class="yr" x="235" y="2044">2004</text><text class="yr" x="374.7" y="2044">2005</text><text class="yr" x="514.4" y="2044">2006</text><text class="yr" x="654.1" y="2044">2007</text><text class="yr" x="793.8" y="2044">2008</text><text class="yr" x="933.5" y="2044">2009</text><text class="yr" x="1073.2" y="2044">2010</text><text class="yr" x="1212.9" y="2044">2011</text><text class="yr" x="1352.6" y="2044">2012</text><text class="yr" x="1492.3" y="2044">2013</text><text class="yr" x="1632" y="2044">2014</text><text class="yr" x="1771.7" y="2044">2015</text><text class="yr" x="1911.4" y="2044">2016</text><text class="yr" x="2051.1" y="2044">2017</text><text class="yr" x="2190.8" y="2044">2018</text><text class="yr" x="2330.5" y="2044">2019</text><text class="yr" x="2470.2" y="2044">2020</text><text class="yr" x="2609.9" y="2044">2021</text><text class="yr" x="2749.6" y="2044">2022</text><text class="yr" x="2889.3" y="2044">2023</text><text class="yr" x="3029" y="2044">2024</text><text class="yr" x="3168.7" y="2044">2025</text>
</g>
</svg>
